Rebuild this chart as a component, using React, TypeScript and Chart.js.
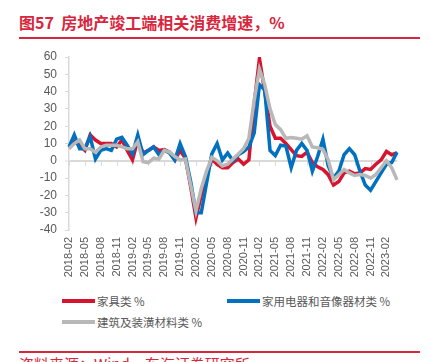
import React, { useEffect, useRef } from "react";
import { Chart, registerables } from "chart.js";

Chart.register(...registerables);

const months: string[] = [];
for (let y = 2018; y <= 2023; y++) {
  for (let m = 1; m <= 12; m++) {
    if (y === 2018 && m < 2) continue;
    if (y === 2023 && m > 4) continue;
    months.push(`${y}-${m < 10 ? "0" + m : m}`);
  }
}

const furniture = [8, 11, 9, 6, 15, 12, 10, 10, 10, 8, 12, 6, 0.5, 12, 4.5, 6, 8, 6, 6.5, 5, 0.5, 6, 1.5, -15, -33, -20, -8, 1, -2, -4, -4, -1, 1, -2, 0.5, 33, 59, 40, 20, 13, 13, 10, 6.5, 3, 2.5, 5, -1, -3.5, -5, -8, -14, -12, -7, -6, -7.5, -7, -4.5, -5, -2, 0.5, 5.4, 3.5, 4.5];
const appliances = [8, 15, 7, 7, 14, 1, 6, 7, 6, 12.5, 13.5, 9, 4, 15, 3.5, 6, 8, 3.5, 6, 4.5, 0.5, 10, 2.5, -12, -30, -30, -13, 4, 10, 0.5, 4.5, 0, 3.5, 5.4, 8, 16, 44, 41, 6, 3, 9, 8.5, -4, 6, 10, 6, -6, 2.5, 12.5, -3, -10, -6, 3.5, 7, 3.5, -6, -14, -17, -12, -7, -2, -1, 5];
const building = [7, 10, 12, 7, 7, 5, 8, 9, 9, 9, 8, 7, 7, 11, -0.5, -1, 1.5, 1, 6, 5, 2.5, 0.5, 1, -14, -29, -16, -6, 2, 0, -3, -2, 1, 4, 7, 13, 35, 53, 44, 30, 21, 18, 13, 13.5, 13, 12.5, 14.5, 8, 7.5, 6.5, 0.5, -11, -8, -5, -7, -8.5, -8, -8.5, -10, -8, -4, 0, -4, -11];

const seriesNames = ["家具类 %", "家用电器和音像器材类 %", "建筑及装潢材料类 %"];
const RED = "#d7132e";
const BLUE = "#0070c0";
const GRAY = "#b8b8b8";
const TITLE_RED = "#d7263d";
const TEXT = "#595959";

const zeroTicks = {
  id: "zeroTicks",
  beforeDatasetsDraw(chart: any) {
    const x = chart.scales.x;
    const y = chart.scales.y;
    const y0 = y.getPixelForValue(0);
    const ctx = chart.ctx;
    ctx.save();
    ctx.strokeStyle = "#d9d9d9";
    ctx.lineWidth = 1;
    for (let i = 0; i < months.length; i += 3) {
      const px = Math.round(x.getPixelForValue(i)) + 0.5;
      ctx.beginPath();
      ctx.moveTo(px, y0);
      ctx.lineTo(px, y0 + 5);
      ctx.stroke();
    }
    ctx.restore();
  },
};

export default function App() {
  const ref = useRef<HTMLCanvasElement>(null);
  useEffect(() => {
    if (!ref.current) return;
    const chart = new Chart(ref.current, {
      type: "line",
      data: {
        labels: months,
        datasets: [
          { label: seriesNames[0], data: furniture, borderColor: RED, backgroundColor: RED, borderWidth: 3.5, pointRadius: 0, tension: 0, order: 2 },
          { label: seriesNames[1], data: appliances, borderColor: BLUE, backgroundColor: BLUE, borderWidth: 3.5, pointRadius: 0, tension: 0, order: 1 },
          { label: seriesNames[2], data: building, borderColor: GRAY, backgroundColor: GRAY, borderWidth: 3.5, pointRadius: 0, tension: 0, order: 0 },
        ],
      },
      options: {
        animation: false,
        responsive: false,
        maintainAspectRatio: false,
        devicePixelRatio: 1,
        layout: { padding: { top: 17, right: 33, left: 0, bottom: 0 } },
        plugins: { legend: { display: false }, tooltip: { enabled: false } },
        scales: {
          x: {
            type: "category",
            offset: false,
            grid: { display: false, drawTicks: false },
            border: { display: false },
            ticks: {
              autoSkip: false,
              maxRotation: 90,
              minRotation: 90,
              padding: 7,
              color: TEXT,
              font: { size: 11, family: "'Liberation Sans', Arial, sans-serif" },
              callback: (_v: any, i: number) => (i % 3 === 0 ? months[i] : ""),
            },
            afterFit: (s: any) => { s.height = 60; },
          },
          y: {
            min: -40,
            max: 60,
            ticks: {
              stepSize: 10,
              autoSkip: false,
              padding: 8,
              color: TEXT,
              font: { size: 12, family: "'Liberation Sans', Arial, sans-serif" },
            },
            grid: {
              color: (c: any) => (c.tick && c.tick.value === 0 ? "#d9d9d9" : "rgba(0,0,0,0)"),
              lineWidth: (c: any) => (c.tick && c.tick.value === 0 ? 2 : 1),
              tickColor: "#d9d9d9",
              tickWidth: 1,
              tickLength: 4,
            },
            border: { display: true, color: "#d9d9d9", width: 1.5 },
            afterFit: (s: any) => { s.width = 69; },
          },
        },
      },
      plugins: [zeroTicks],
    } as any);
    return () => chart.destroy();
  }, []);

  const legendItem = (name: string, color: string, left: number, top: number) => (
    <div key={name} style={{ position: "absolute", left, top: top - 8, height: 16, display: "flex", alignItems: "center" }}>
      <div style={{ width: 33, height: 4, background: color }} />
      <span style={{ marginLeft: 2, fontSize: 11.5, color: TEXT, fontFamily: "'Noto Sans CJK SC', sans-serif", whiteSpace: "nowrap" }}>{name}</span>
    </div>
  );

  return (
    <div style={{ position: "absolute", left: 0, top: 0, width: 430, height: 362, overflow: "hidden", background: "#fff" }}>
      <div style={{ position: "absolute", left: 19, top: 12, fontSize: 16, lineHeight: "21px", fontWeight: "bold", color: TITLE_RED, fontFamily: "'Noto Sans CJK SC', sans-serif", whiteSpace: "pre" }}>
        {"图57  房地产竣工端相关消费增速，%"}
      </div>
      <div style={{ position: "absolute", left: 19, top: 37, width: 401, height: 1.5, background: TITLE_RED }} />
      <canvas ref={ref} width={430} height={250} style={{ position: "absolute", left: 0, top: 40, width: 430, height: 250 }} />
      {legendItem(seriesNames[0], RED, 62, 301)}
      {legendItem(seriesNames[1], BLUE, 227, 301)}
      {legendItem(seriesNames[2], GRAY, 62, 322)}
      <div style={{ position: "absolute", left: 19, top: 351, width: 401, height: 1.5, background: TITLE_RED }} />
      <div style={{ position: "absolute", left: 19, top: 355, fontSize: 15, lineHeight: "18px", color: TITLE_RED, fontFamily: "'Noto Sans CJK SC', sans-serif", whiteSpace: "nowrap" }}>
        资料来源：Wind，东海证券研究所
      </div>
    </div>
  );
}
